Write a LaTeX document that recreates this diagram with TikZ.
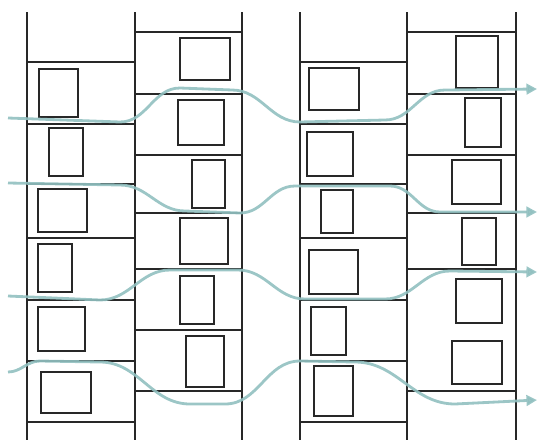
\documentclass[tikz,border=0pt]{standalone}
\usepackage[]{color}
\usepackage{tikz}
\usetikzlibrary{arrows.meta}
\definecolor{wallgray}{RGB}{40,40,40}
\definecolor{flowteal}{RGB}{145,192,192}

\begin{document}
\begin{tikzpicture}[x = 0.03cm, y = -0.03cm,
  wall/.style = {line width = 1.4pt, color = wallgray},
  pane/.style = {line width = 1.8pt, color = wallgray},
  flow/.style = {line width = 2.4pt, color = flowteal, opacity = 0.9,
    -{Triangle[length = 9pt, width = 9pt]}}]
\useasboundingbox (0, 0) rectangle (539, 444);
% walls
\foreach \x in {27, 135, 242, 300, 407, 516}
  \draw[wall] (\x, 12) to (\x, 440);
% floors
\foreach \y in {62, 124, 184, 238, 300, 361, 422}
  {\draw[wall] (27, \y) to (135, \y);
   \draw[wall] (300, \y) to (407, \y);}
\foreach \y in {32, 94, 155, 213, 269, 330, 391}
  \draw[wall] (135, \y) to (242, \y);
\foreach \y in {32, 94, 155, 213, 269, 391}
  \draw[wall] (407, \y) to (516, \y);
% windows
\draw[pane] (39, 69) rectangle (78, 117);
\draw[pane] (49, 128) rectangle (83, 176);
\draw[pane] (38, 189) rectangle (87, 232);
\draw[pane] (38, 244) rectangle (72, 292);
\draw[pane] (38, 307) rectangle (85, 351);
\draw[pane] (41, 372) rectangle (91, 413);
\draw[pane] (180, 38) rectangle (230, 80);
\draw[pane] (178, 100) rectangle (224, 145);
\draw[pane] (192, 160) rectangle (225, 208);
\draw[pane] (180, 218) rectangle (228, 264);
\draw[pane] (180, 276) rectangle (214, 324);
\draw[pane] (186, 336) rectangle (224, 387);
\draw[pane] (309, 68) rectangle (359, 110);
\draw[pane] (307, 132) rectangle (353, 176);
\draw[pane] (321, 190) rectangle (353, 233);
\draw[pane] (309, 250) rectangle (358, 294);
\draw[pane] (311, 307) rectangle (346, 355);
\draw[pane] (314, 366) rectangle (353, 416);
\draw[pane] (456, 36) rectangle (498, 88);
\draw[pane] (465, 98) rectangle (501, 147);
\draw[pane] (452, 160) rectangle (501, 204);
\draw[pane] (462, 218) rectangle (496, 265);
\draw[pane] (456, 279) rectangle (502, 323);
\draw[pane] (452, 341) rectangle (502, 384);
% air flow
\draw[flow] (8, 118) to (120, 122) to[out = 0, in = 180] (180, 88)
  to (232, 90) to[out = 0, in = 180] (300, 122) to (385, 120)
  to[out = 0, in = 180] (445, 90) to (537, 89);
\draw[flow] (8, 183) to (120, 185) to[out = 0, in = 180] (185, 211)
  to (240, 213) to[out = 0, in = 180] (295, 186) to (390, 186)
  to[out = 0, in = 180] (440, 212) to (537, 212);
\draw[flow] (8, 296) to (100, 300) to[out = 0, in = 180] (170, 270)
  to (238, 270) to[out = 0, in = 180] (305, 299) to (385, 299)
  to[out = 0, in = 180] (450, 271) to (537, 272);
\draw[flow] (8, 372) to[out = 0, in = 180] (40, 361) to (100, 362)
  to[out = 0, in = 180] (190, 404) to (225, 404)
  to[out = 0, in = 180] (300, 361) to (355, 362)
  to[out = 0, in = 180] (455, 404) to (537, 400);
\end{tikzpicture}
\end{document}
